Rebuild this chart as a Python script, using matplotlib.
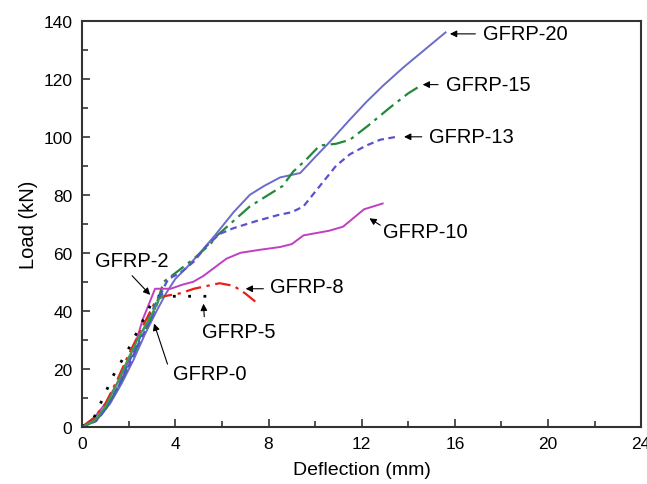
import numpy as np
import matplotlib
matplotlib.use("Agg")
import matplotlib.pyplot as plt
from matplotlib.ticker import MultipleLocator

plt.rcParams['font.family'] = ['Liberation Sans', 'DejaVu Sans']

# load-deflection curves (deflection mm, load kN)
x0 = [0, 0.5, 1.0, 1.5, 2.0, 2.5, 3.0, 3.3, 3.45]
y0 = [0, 2, 7, 15, 24, 32, 39, 44, 45]
x2 = [0, 0.5, 0.8, 1.2, 1.6, 2.0, 2.5, 3.0, 3.3, 3.5]
y2 = [0, 2, 4, 9, 15, 22, 31, 40, 45, 46]
x5 = [0, 0.5, 0.9, 1.33, 2.0, 2.6, 3.0, 3.2, 4.0, 4.7, 5.36]
y5 = [0, 3, 10, 17.6, 27, 36.5, 43, 45, 45, 45, 45]
x8 = [0, 0.5, 1.0, 1.5, 2.0, 2.5, 3.0, 3.2, 3.5, 4.2, 4.8, 5.9, 6.5, 7.0, 7.55]
y8 = [0, 3, 8, 16, 25, 33, 41, 44, 45, 46, 47.6, 49.5, 48.6, 46, 42.4]
x10 = [0, 0.5, 1.0, 1.5, 1.9, 2.3, 2.6, 2.9, 3.13, 3.8, 4.3, 4.77, 5.2, 5.7, 6.2,
       6.8, 7.6, 8.5, 9.0, 9.5, 10.6, 11.2, 12.1, 12.9]
y10 = [0, 3, 8, 15, 21, 29, 37, 43, 47.6, 47.6, 49, 50, 52, 55, 58,
       60, 61, 62, 63, 66, 67.6, 69, 75, 77]
x13 = [0, 0.6, 1.0, 1.5, 2.0, 2.5, 3.0, 3.3, 3.5, 3.7, 4.2, 4.8, 5.3, 5.9, 6.5,
       7.5, 8.4, 9.0, 9.5, 10.2, 10.9, 11.5, 12.2, 12.8, 13.5]
y13 = [0, 2, 6, 13, 21, 30, 38, 44, 48, 51, 53, 57, 62, 66.5, 68.5,
       71, 73, 74, 76, 83, 90, 94, 97, 99, 100]
x15 = [0, 0.6, 1.0, 1.5, 2.0, 2.5, 3.0, 3.3, 3.5, 4.0, 4.8, 5.5, 5.8, 6.5, 7.2,
       8.2, 8.6, 9.06, 9.6, 10.2, 10.9, 11.5, 12.3, 13.2, 14.0, 14.4]
y15 = [0, 2, 6, 13, 21, 30, 38, 45, 50, 53, 58, 63, 66, 71, 76,
       81, 83, 88, 92, 97, 97.6, 99, 104, 110, 115, 117]
x20 = [0, 0.7, 1.2, 1.7, 2.2, 2.7, 3.2, 3.6, 4.0, 4.5, 5.06, 5.7, 6.5, 7.2, 7.8,
       8.5, 9.36, 10.0, 10.6, 11.5, 12.2, 12.9, 13.8, 14.7, 15.6]
y20 = [0, 3, 8, 15, 23, 32, 40, 46, 51, 55, 60, 66, 74, 80, 83,
       86, 87.5, 93, 98, 106, 112, 117.5, 124, 130, 136]

fig = plt.figure(figsize=(6.47, 4.85), dpi=100)
ax = fig.add_axes([0.127, 0.118, 0.864, 0.837])

ax.plot(x20, y20, color='#6b6bcc', lw=1.4)
ax.plot(x15, y15, color='#23893a', lw=1.6, dashes=[7, 2.5, 1.5, 2.5])
ax.plot(x13, y13, color='#5a52cc', lw=1.6, dashes=[3, 2])
ax.plot(x10, y10, color='#c03fc0', lw=1.4)
ax.plot(x8, y8, color='#e82018', lw=1.6, dashes=[7, 2.5, 1.5, 2.5])
ax.plot(x5, y5, color='black', lw=2.0, dashes=[1, 4.5])
ax.plot(x2, y2, color='#3d5fd0', lw=1.4, dashes=[4, 2])
ax.plot(x0, y0, color='#3aa043', lw=1.4)

fs = 14.5
arw = dict(arrowstyle='-|>', color='black', lw=0.8, mutation_scale=10)
# name, arrow tip, text position, arrow tail
notes = [
    ('GFRP-20', (15.67, 135.5), (17.2, 135.5), (17.0, 135.5)),
    ('GFRP-15', (14.5, 118), (15.6, 118), (15.4, 118)),
    ('GFRP-13', (13.7, 100), (14.9, 100), (14.7, 100)),
    ('GFRP-10', (12.23, 72.4), (12.9, 67.2), (12.9, 69)),
    ('GFRP-8', (6.9, 47.6), (8.07, 48.3), (7.9, 47.6)),
    ('GFRP-5', (5.2, 43.4), (5.15, 33), (5.25, 37)),
    ('GFRP-2', (3.0, 44.8), (0.56, 57.2), (2.06, 52.8)),
    ('GFRP-0', (3.05, 36.5), (3.9, 18.3), (3.7, 20.7)),
]
for name, tip, pos, tail in notes:
    ax.text(pos[0], pos[1], name, fontsize=fs, ha='left', va='center')
    ax.annotate('', xy=tip, xytext=tail, arrowprops=arw)

ax.set_xlim(0, 24)
ax.set_ylim(0, 140)
ax.xaxis.set_major_locator(MultipleLocator(4))
ax.xaxis.set_minor_locator(MultipleLocator(2))
ax.yaxis.set_major_locator(MultipleLocator(20))
ax.yaxis.set_minor_locator(MultipleLocator(10))
ax.tick_params(which='both', direction='in', labelsize=12.5, color='#333333', pad=7)
ax.tick_params(which='major', length=6, width=1.2)
ax.tick_params(which='minor', length=4, width=1.2)
for s in ax.spines.values():
    s.set_linewidth(1.5)
    s.set_color('#333333')
ax.set_xlabel('Deflection (mm)', fontsize=14, labelpad=7)
ax.set_ylabel('Load (kN)', fontsize=14.5, labelpad=4)

fig.savefig('out.png', dpi=100)
